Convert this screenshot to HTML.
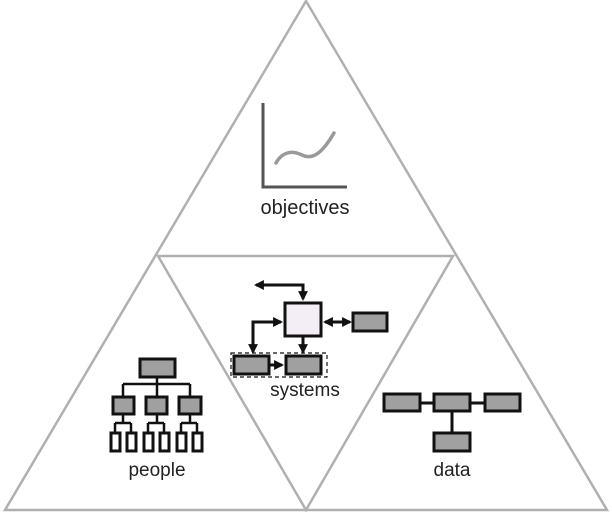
<!DOCTYPE html>
<html><head><style>body{margin:0;background:#fff}svg{display:block}</style></head><body>
<svg width="612" height="514" viewBox="0 0 612 514" xmlns="http://www.w3.org/2000/svg">
<defs><marker id="a" viewBox="0 0 10 10" refX="8" refY="5" markerWidth="3.3" markerHeight="3.3" orient="auto-start-reverse"><path d="M0,0L10,5L0,10z" fill="#111"/></marker></defs>
<g fill="none" stroke="#b0b0b0" stroke-width="2.5">
<polygon points="306,1 5,510 607,510"/>
<polygon points="158,256 453,256 306,510"/>
</g>
<!-- objectives -->
<path d="M263,103V187H347" fill="none" stroke="#555" stroke-width="3"/>
<path d="M276,163C282,152 292,150 302,155C314,161 324,150 334,133" fill="none" stroke="#999" stroke-width="3.5" stroke-linecap="round"/>
<text x="305" y="214" font-family="Liberation Sans, sans-serif" font-size="20" fill="#222" text-anchor="middle">objectives</text>
<!-- systems -->
<g stroke="#111" stroke-width="3" fill="none">
<path d="M256,285H303V299" marker-start="url(#a)" marker-end="url(#a)"/>
<path d="M281,322H253V352" marker-start="url(#a)" marker-end="url(#a)"/>
<path d="M303,337V352" marker-end="url(#a)"/>
<path d="M325,322H350" marker-start="url(#a)" marker-end="url(#a)"/>
<path d="M270,365H282" marker-end="url(#a)"/>
</g>
<rect x="285" y="303" width="36" height="33" fill="#f3eef5" stroke="#111" stroke-width="3"/>
<rect x="353" y="313" width="34" height="18" fill="#a0a0a0" stroke="#111" stroke-width="3"/>
<rect x="234" y="356" width="35" height="18" fill="#a0a0a0" stroke="#111" stroke-width="3"/>
<rect x="286" y="356" width="35" height="18" fill="#a0a0a0" stroke="#111" stroke-width="3"/>
<rect x="231" y="353" width="96" height="24" fill="none" stroke="#111" stroke-width="1.2" stroke-dasharray="4,3"/>
<text x="305" y="396" font-family="Liberation Sans, sans-serif" font-size="19" fill="#222" text-anchor="middle">systems</text>
<!-- people -->
<g stroke="#111" stroke-width="2.5" fill="none">
<path d="M157,378V384M123,384H190M123,384V396M157,384V396M190,384V396"/>
<path d="M123,415V423M115,423H131M115,423V432M131,423V432"/>
<path d="M157,415V423M148,423H164M148,423V432M164,423V432"/>
<path d="M190,415V423M181,423H197M181,423V432M197,423V432"/>
</g>
<g stroke="#111" stroke-width="3" fill="#a0a0a0">
<rect x="140" y="359" width="35" height="18"/>
<rect x="113" y="397" width="21" height="17"/>
<rect x="146" y="397" width="21" height="17"/>
<rect x="179" y="397" width="22" height="17"/>
</g>
<g stroke="#111" stroke-width="3" fill="#fff">
<rect x="111" y="433" width="9" height="18"/><rect x="127" y="433" width="9" height="18"/>
<rect x="144" y="433" width="9" height="18"/><rect x="160" y="433" width="9" height="18"/>
<rect x="177" y="433" width="9" height="18"/><rect x="193" y="433" width="9" height="18"/>
</g>
<text x="157" y="476" font-family="Liberation Sans, sans-serif" font-size="19" fill="#222" text-anchor="middle">people</text>
<!-- data -->
<path d="M421,403H484M452,412V432" stroke="#111" stroke-width="3"/>
<g stroke="#111" stroke-width="3" fill="#a0a0a0">
<rect x="384" y="394" width="36" height="17"/>
<rect x="434" y="394" width="36" height="17"/>
<rect x="485" y="394" width="35" height="17"/>
<rect x="434" y="433" width="36" height="18"/>
</g>
<text x="452" y="476" font-family="Liberation Sans, sans-serif" font-size="19" fill="#222" text-anchor="middle">data</text>
</svg>
</body></html>
